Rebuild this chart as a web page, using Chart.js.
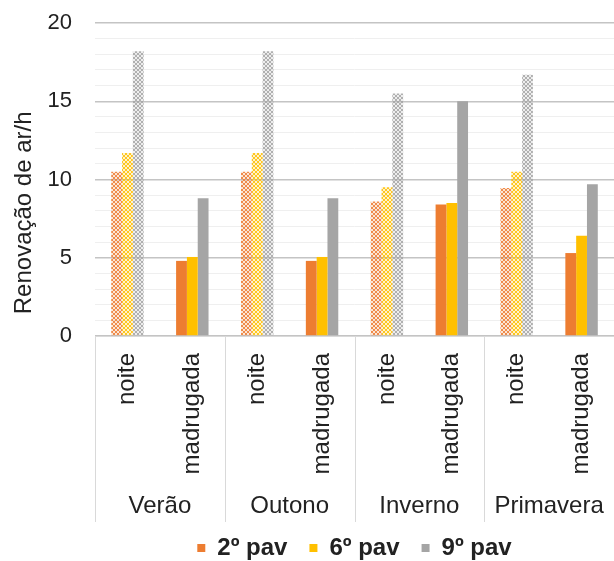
<!DOCTYPE html>
<html>
<head>
<meta charset="utf-8">
<script src="https://cdn.jsdelivr.net/npm/chart.js@4/dist/chart.umd.min.js"></script>
<style>
  html, body { margin: 0; padding: 0; background: #fff; }
  #wrap { width: 614px; height: 561px; }
</style>
</head>
<body>
<div id="wrap"><canvas id="chartRenovacao"></canvas></div>
<script>
var periodos = ['noite', 'madrugada', 'noite', 'madrugada', 'noite', 'madrugada', 'noite', 'madrugada'];
var estacoes = ['Verão', 'Outono', 'Inverno', 'Primavera'];
var pav2 = [10.5, 4.8, 10.5, 4.8, 8.6, 8.4, 9.45, 5.3];
var pav6 = [11.7, 5.05, 11.7, 5.05, 9.5, 8.5, 10.5, 6.4];
var pav9 = [18.2, 8.8, 18.2, 8.8, 15.5, 15.0, 16.7, 9.7];
var coresPav = ['#ED7D31', '#FFC000', '#A5A5A5'];

// hachura (noite) parecida com a do excel
function hachura(cor) {
    var c = document.createElement('canvas');
    c.width = 4; c.height = 4;
    var g = c.getContext('2d');
    g.globalAlpha = 0.2;
    g.fillStyle = cor;
    g.fillRect(0, 0, 4, 4);
    g.globalAlpha = 0.85;
    for (var i = 0; i < 4; i++) {
        g.fillRect(i, i, 1, 1);
        if (3 - i !== i) g.fillRect(3 - i, i, 1, 1);
    }
    return g.createPattern(c, 'repeat');
}

function cores(solida) {
    var pat = hachura(solida);
    return function(ctx) {
        return ctx.dataIndex % 2 === 0 ? pat : solida;
    };
}

// linhas que separam as estacoes embaixo do eixo
var separadores = {
    id: 'separadores',
    afterDraw: function(chart) {
        var x = chart.scales.x, x2 = chart.scales.x2, c = chart.ctx;
        c.save();
        c.strokeStyle = '#d9d9d9';
        c.lineWidth = 1;
        for (var i = 0; i <= estacoes.length; i++) {
            var px = Math.round(x.getPixelForValue(i * 2 - 0.5)) + 0.5;
            c.beginPath();
            c.moveTo(px, chart.chartArea.bottom);
            c.lineTo(px, x2.bottom + 8);
            c.stroke();
        }
        c.restore();
    }
};

Chart.defaults.font.family = '"Liberation Sans", Arial, sans-serif';
Chart.defaults.color = '#222';

var ctx = document.getElementById('chartRenovacao');
var myChart = new Chart(ctx, {
    type: 'bar',
    data: {
        labels: periodos,
        datasets: [
            { label: '2º pav', data: pav2, backgroundColor: cores(coresPav[0]) },
            { label: '6º pav', data: pav6, backgroundColor: cores(coresPav[1]) },
            { label: '9º pav', data: pav9, backgroundColor: cores(coresPav[2]) }
        ]
    },
    options: {
        responsive: true,
        maintainAspectRatio: false,
        animation: false,
        categoryPercentage: 0.5,
        barPercentage: 1,
        layout: { padding: { top: 0, right: 0, bottom: -9, left: 0 } },
        plugins: {
            tooltip: { enabled: false },
            legend: {
                position: 'bottom',
                fullSize: false,
                labels: {
                    boxWidth: 8,
                    boxHeight: 8,
                    padding: 22,
                    font: { size: 24, weight: 'bold' },
                    generateLabels: function(chart) {
                        var itens = Chart.defaults.plugins.legend.labels.generateLabels(chart);
                        itens.forEach(function(it, i) {
                            it.fillStyle = coresPav[i];
                            it.strokeStyle = coresPav[i];
                            it.lineWidth = 0;
                        });
                        return itens;
                    }
                }
            }
        },
        scales: {
            y: {
                min: 0,
                max: 20,
                afterFit: function(scale) {
                    scale.width = 95;
                    scale.paddingTop = 23;
                },
                border: { display: false },
                grid: {
                    drawTicks: false,
                    color: function(c) { return c.tick.value % 5 === 0 ? '#c4c4c4' : '#efefef'; },
                    lineWidth: function(c) { return c.tick.value % 5 === 0 ? 1.5 : 1; }
                },
                ticks: {
                    stepSize: 1,
                    autoSkip: false,
                    padding: 23,
                    font: { size: 22 },
                    callback: function(v) { return v % 5 === 0 ? v : ''; }
                },
                title: {
                    display: true,
                    text: 'Renovação de ar/h\u00a0\u00a0\u00a0\u00a0\u00a0\u00a0\u00a0\u00a0\u00a0\u00a0',
                    font: { size: 24 },
                    padding: { top: 10, bottom: 0 }
                }
            },
            x: {
                afterFit: function(scale) {
                    scale.height = 150;
                    scale.paddingLeft = 0;
                    scale.paddingRight = 0;
                },
                border: { color: '#d9d9d9' },
                grid: { display: false, drawTicks: false },
                ticks: {
                    minRotation: 90,
                    maxRotation: 90,
                    autoSkip: false,
                    padding: 17,
                    font: { size: 24 }
                }
            },
            x2: {
                type: 'category',
                position: 'bottom',
                labels: estacoes,
                offset: true,
                afterFit: function(scale) {
                    scale.height = 28;
                    scale.paddingLeft = 0;
                    scale.paddingRight = 0;
                },
                border: { display: false },
                grid: { display: false, drawTicks: false },
                ticks: { padding: 6, font: { size: 24 } }
            }
        }
    },
    plugins: [separadores]
});
</script>
</body>
</html>
